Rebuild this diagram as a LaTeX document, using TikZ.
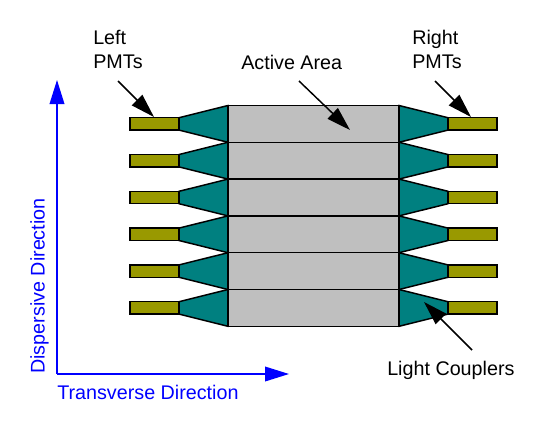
\documentclass[tikz,border=0pt]{standalone}
\usepackage{fontspec}
\setmainfont{Liberation Sans}
\usetikzlibrary{arrows.meta}
\definecolor{pmt}{RGB}{153,153,0}
\definecolor{coupler}{RGB}{0,128,128}
\definecolor{active}{RGB}{191,191,191}
\definecolor{axisblue}{RGB}{0,0,255}
\tikzset{
  x=0.75pt,y=-0.75pt,
  part/.style={draw=black,line width=1.1pt,line join=miter},
  pmtbox/.style={part,fill=pmt},
  couplerbox/.style={part,fill=coupler},
  activebox/.style={part,fill=active},
  pointer/.style={draw=black,line width=1.1pt,-{Triangle[length=18pt,width=11pt]}},
  axisline/.style={draw=axisblue,line width=1.1pt,-{Triangle[length=18pt,width=11pt,fill=axisblue]}},
  lbl/.style={inner sep=0pt,font=\fontsize{14.8}{18.6}\selectfont,align=left,text=black},
  axlbl/.style={inner sep=0pt,font=\fontsize{14.8}{18.6}\selectfont,text=axisblue},
}
\begin{document}
\begin{tikzpicture}
\useasboundingbox (0,0) rectangle (554,426);
\foreach \i/\t in {0/105.5,1/142.3,2/179.1,3/215.9,4/252.7,5/289.5}{
  \pgfmathsetmacro\b{\t+36.8}
  \pgfmathsetmacro\pa{\t+12.2}
  \pgfmathsetmacro\pb{\t+24.6}
  \draw[couplerbox] (228,\t) -- (179,\pa) -- (179,\pb) -- (228,\b) -- cycle;
  \draw[couplerbox] (399,\t) -- (448,\pa) -- (448,\pb) -- (399,\b) -- cycle;
  \draw[pmtbox] (130,\pa) rectangle (179,\pb);
  \draw[pmtbox] (448,\pa) rectangle (497,\pb);
  \draw[activebox] (228,\t) rectangle (399,\b);
}
\node[lbl,anchor=north west] (leftlbl) at (93,29.5) {Left\\PMTs};
\node[lbl,anchor=north west] (rightlbl) at (412,29.5) {Right\\PMTs};
\node[lbl,anchor=north west] (activelbl) at (241,54.5) {Active Area};
\node[lbl,anchor=north west] (lightlbl) at (387,360.5) {Light Couplers};
\coordinate (lefttail) at (118,81);
\coordinate (lefttip) at (154,117);
\coordinate (righttail) at (435,81);
\coordinate (righttip) at (471,117);
\coordinate (activetail) at (299,81);
\coordinate (activetip) at (350,130);
\coordinate (lighttail) at (472,350);
\coordinate (lighttip) at (424,302);
\draw[pointer] (lefttail) -- (lefttip);
\draw[pointer] (righttail) -- (righttip);
\draw[pointer] (activetail) -- (activetip);
\draw[pointer] (lighttail) -- (lighttip);
\coordinate (origin) at (57,374);
\coordinate (uptip) at (57,80);
\coordinate (righttipaxis) at (289,374);
\draw[axisline] (origin) -- (uptip);
\draw[axisline] (origin) -- (righttipaxis);
\node[axlbl,anchor=north west] (translbl) at (57,385) {Transverse Direction};
\node[axlbl,anchor=west,rotate=90] (displbl) at (39.5,374) {Dispersive Direction};
\end{tikzpicture}
\end{document}
